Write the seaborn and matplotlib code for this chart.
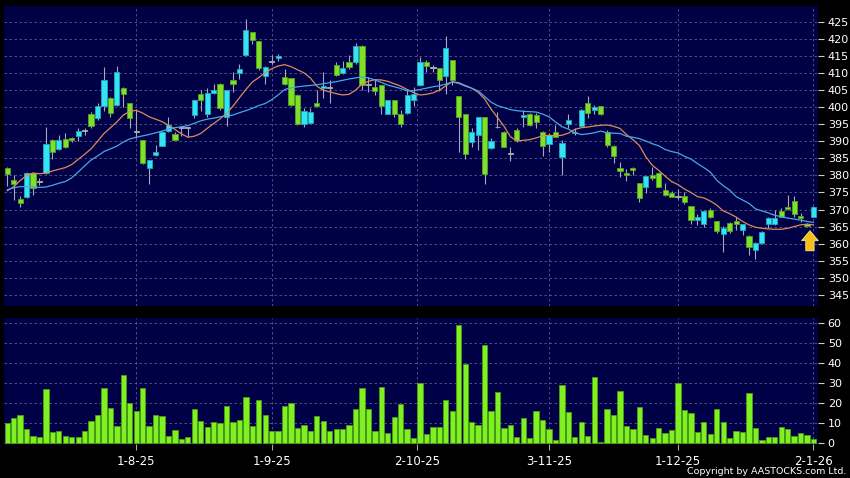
import numpy as np
import pandas as pd
import matplotlib
matplotlib.use("Agg")
import matplotlib.pyplot as plt
import seaborn as sns

sns.set_theme(style="dark")
plt.rcParams["font.family"] = ["DejaVu Sans"]

# -----------------------------
# Data (daily candles, Jul 2025 - Jan 2026)
# -----------------------------
opens = [382.2, 378.8, 373.0, 373.7, 380.8, 378.1, 380.6, 390.5, 387.9, 390.8,
         391.0, 391.7, 393.1, 397.9, 396.7, 400.3, 402.8, 400.8, 405.7, 401.1,
         392.8, 390.3, 382.2, 386.0, 388.7, 393.1, 392.1, 393.9, 393.9, 397.7,
         404.0, 398.1, 404.3, 406.9, 397.0, 408.1, 410.1, 415.2, 422.0, 419.4,
         409.1, 413.3, 414.5, 408.8, 408.6, 403.7, 395.0, 395.5, 401.1, 405.6,
         405.7, 412.5, 410.0, 413.3, 413.3, 418.1, 406.5, 406.0, 406.5, 398.1,
         402.1, 398.1, 398.3, 402.0, 406.6, 413.3, 411.6, 411.5, 409.1, 413.8,
         403.3, 397.9, 389.9, 391.9, 397.1, 388.0, 394.1, 392.8, 386.4, 393.3,
         397.0, 398.1, 397.7, 392.8, 389.2, 392.8, 385.3, 395.2, 392.3, 394.5,
         401.3, 399.1, 400.4, 392.8, 388.7, 382.2, 380.8, 382.3, 377.8, 376.7,
         380.0, 380.8, 375.6, 374.8, 373.7, 374.0, 371.0, 366.9, 365.8, 370.0,
         366.6, 362.7, 365.9, 366.6, 364.0, 362.3, 358.1, 360.1, 365.7, 365.7,
         369.5, 370.8, 372.6, 368.2, 365.7, 367.8]
highs = [382.5, 380.0, 373.9, 381.0, 381.0, 379.1, 394.2, 390.6, 392.0, 392.3,
         391.3, 393.8, 394.0, 398.7, 401.1, 411.8, 403.0, 412.0, 405.8, 401.2,
         399.2, 390.4, 384.6, 388.8, 393.0, 397.2, 392.8, 394.2, 394.1, 402.2,
         405.0, 405.7, 406.9, 407.0, 405.1, 410.3, 412.8, 425.9, 422.1, 419.5,
         412.0, 415.2, 415.7, 411.3, 408.7, 403.8, 399.9, 399.9, 405.0, 410.4,
         407.9, 413.2, 413.6, 415.2, 418.7, 418.2, 408.9, 407.9, 406.6, 402.2,
         402.2, 399.1, 405.0, 406.0, 414.8, 413.8, 412.3, 411.6, 421.0, 413.9,
         403.4, 398.0, 393.8, 397.2, 397.2, 390.9, 398.7, 392.9, 388.4, 393.8,
         399.2, 398.2, 398.2, 392.9, 392.3, 394.7, 390.4, 398.0, 393.8, 399.4,
         403.3, 400.6, 400.5, 393.3, 388.8, 383.8, 382.0, 382.5, 377.9, 379.9,
         382.6, 380.9, 377.7, 375.3, 375.9, 375.2, 371.1, 368.8, 370.0, 370.3,
         366.7, 365.2, 366.4, 367.9, 365.8, 362.4, 360.4, 363.6, 367.9, 369.8,
         370.3, 374.3, 374.0, 368.9, 366.1, 370.9]
lows = [377.0, 372.7, 370.6, 373.5, 374.4, 377.2, 380.4, 384.7, 387.6, 388.0,
        389.8, 390.2, 391.8, 393.9, 396.4, 399.0, 397.0, 400.3, 400.1, 393.8,
        390.9, 383.3, 377.6, 385.8, 388.5, 392.8, 390.3, 391.5, 391.3, 396.7,
        398.9, 397.0, 404.0, 399.1, 394.4, 404.5, 408.4, 415.0, 418.6, 411.0,
        406.7, 412.8, 413.7, 406.4, 400.3, 394.9, 394.3, 395.3, 400.1, 402.6,
        401.1, 409.3, 409.8, 411.3, 412.8, 405.0, 404.5, 403.5, 398.1, 398.0,
        397.2, 394.2, 398.1, 400.3, 406.2, 410.3, 410.3, 404.9, 404.0, 406.4,
        387.0, 384.7, 388.4, 387.5, 377.6, 387.9, 394.0, 388.3, 384.3, 389.9,
        394.2, 394.6, 393.8, 385.8, 387.0, 391.2, 380.2, 394.0, 391.8, 394.4,
        396.9, 397.9, 397.6, 388.3, 383.5, 379.5, 378.3, 380.0, 372.3, 374.8,
        378.7, 376.6, 374.0, 373.6, 373.2, 371.6, 365.9, 365.4, 365.0, 367.4,
        363.0, 357.6, 363.0, 363.9, 362.5, 356.6, 355.6, 360.0, 364.6, 365.6,
        367.7, 370.0, 367.9, 366.4, 364.9, 367.7]
closes = [380.3, 377.5, 371.8, 380.8, 376.2, 378.1, 389.2, 386.9, 390.5, 388.2,
          390.3, 393.0, 393.1, 394.5, 400.5, 408.1, 398.3, 410.3, 404.0, 396.7,
          392.8, 383.5, 384.5, 387.0, 392.8, 394.7, 390.5, 393.9, 393.9, 402.1,
          402.2, 404.2, 405.2, 399.9, 405.0, 406.9, 411.3, 422.6, 419.6, 411.6,
          411.7, 413.3, 415.1, 406.7, 400.8, 395.0, 398.8, 398.5, 400.5, 406.2,
          405.7, 409.5, 411.6, 411.8, 417.9, 406.5, 406.5, 404.8, 400.5, 402.1,
          398.1, 395.2, 403.7, 404.0, 413.3, 412.0, 411.6, 408.1, 417.4, 408.1,
          397.2, 386.3, 392.8, 397.1, 380.5, 390.2, 394.1, 388.4, 386.4, 390.4,
          397.7, 394.7, 395.7, 388.6, 391.8, 391.3, 389.4, 396.3, 392.8, 399.3,
          398.4, 400.1, 398.1, 388.8, 385.7, 381.2, 380.0, 381.7, 373.5, 379.8,
          379.2, 376.7, 374.4, 373.8, 373.7, 372.3, 366.9, 367.7, 369.6, 367.7,
          363.8, 364.7, 363.8, 365.9, 365.7, 358.9, 360.3, 363.5, 367.4, 367.4,
          367.8, 370.1, 368.6, 367.4, 365.1, 370.8]

# moving averages as drawn on the chart
ma_short = [375.5, 376.7, 378.5, 380.0, 380.7, 380.5, 380.7, 381.3, 381.8, 382.3,
            383.2, 384.7, 386.2, 387.8, 390.0, 392.3, 394.0, 395.7, 397.7, 398.8,
            399.1, 398.3, 397.2, 396.5, 395.8, 394.7, 393.5, 392.2, 391.2, 391.5,
            392.3, 393.8, 395.2, 396.6, 398.2, 400.3, 402.8, 405.2, 407.4, 408.7,
            410.2, 411.3, 412.1, 412.5, 411.9, 411.0, 410.1, 408.6, 406.2, 405.0,
            404.5, 404.0, 403.6, 403.8, 405.0, 406.8, 407.6, 408.1, 408.0, 407.6,
            406.9, 406.2, 405.2, 404.3, 403.6, 403.8, 404.2, 405.0, 406.3, 407.5,
            407.2, 406.4, 405.6, 404.4, 402.5, 399.5, 397.0, 394.5, 391.4, 390.1,
            390.3, 390.5, 391.0, 391.6, 391.8, 391.6, 391.8, 392.4, 393.5, 394.0,
            394.2, 394.5, 394.7, 394.8, 394.4, 393.8, 392.0, 390.5, 388.8, 385.5,
            383.0, 381.5, 379.8, 378.2, 377.3, 376.0, 375.0, 373.8, 373.4, 372.5,
            371.3, 369.6, 368.8, 367.8, 366.5, 365.5, 364.8, 364.5, 364.3, 364.2,
            364.2, 364.5, 365.0, 365.5, 365.7, 365.5]
ma_long = [375.8, 376.4, 376.7, 376.7, 376.7, 376.5, 376.6, 377.1, 377.7, 378.2,
           379.3, 381.0, 382.8, 384.5, 385.7, 387.0, 387.8, 388.6, 389.8, 390.7,
           391.2, 391.6, 392.0, 392.5, 393.0, 393.6, 394.0, 394.3, 394.6, 395.3,
           396.0, 396.5, 396.8, 397.2, 397.5, 397.7, 398.4, 399.0, 399.7, 400.5,
           401.1, 402.2, 403.6, 405.2, 405.7, 406.0, 406.2, 406.4, 406.6, 406.9,
           407.2, 407.5, 407.9, 408.3, 408.6, 408.9, 408.6, 408.0, 407.3, 406.5,
           406.0, 405.5, 404.8, 404.9, 405.2, 405.6, 406.0, 406.3, 406.8, 407.4,
           407.0, 406.2, 405.6, 404.8, 403.2, 401.5, 400.5, 399.9, 399.3, 399.0,
           398.8, 398.7, 398.6, 398.0, 397.2, 395.7, 394.3, 393.6, 392.5, 392.0,
           392.2, 392.5, 393.0, 392.5, 392.4, 392.3, 391.5, 391.2, 390.8, 390.1,
           389.3, 388.7, 387.6, 387.0, 386.6, 385.6, 384.8, 383.5, 382.3, 381.0,
           378.6, 377.0, 375.7, 373.8, 372.8, 371.8, 370.2, 369.6, 369.0, 368.3,
           367.9, 367.5, 367.2, 366.9, 366.5, 366.2]

volume = [10, 12.7, 14.2, 7.2, 3.8, 3.3, 27, 5.7, 6.2, 3.5,
          3.3, 3, 6, 11, 14, 27.7, 17.7, 8.8, 34, 20,
          16, 27.5, 8.8, 14, 13.5, 3.5, 6.7, 2, 3.3, 17.2,
          11.3, 8.2, 10.5, 10, 18.7, 10.7, 11.5, 23, 8.7, 21.8,
          14.2, 6, 6, 18.5, 20.3, 7.8, 9.3, 6, 13.7, 11,
          6.3, 7.2, 7, 9.2, 17.2, 27.8, 17.2, 6, 28, 5,
          13.2, 19.7, 7, 2.8, 30.3, 4.7, 8.3, 8.3, 21.5, 16,
          59, 39.7, 10.8, 9.3, 49, 16, 25.5, 7.5, 9, 3,
          12.8, 2.7, 16.3, 11.7, 7, 1.8, 29.3, 15.7, 3.2, 10.7,
          3.8, 33, 0.5, 17.2, 14, 26.2, 8.7, 7.3, 18.2, 4.2,
          2.8, 7.5, 5, 6.7, 30.3, 16.7, 15.3, 5.7, 10.8, 4.7,
          17.3, 10.8, 2.5, 6, 5.7, 25, 7.8, 1.5, 3.3, 3.2,
          8.3, 7, 3.7, 5.2, 4.2, 2]

date_labels = ["1-8-25", "1-9-25", "2-10-25", "3-11-25", "1-12-25", "2-1-26"]
date_days = [20, 41, 63.6, 84, 104, 125]

df = pd.DataFrame({"open": opens, "high": highs, "low": lows,
                   "close": closes, "ma10": ma_short, "ma20": ma_long,
                   "volume": volume})
df["day"] = np.arange(len(df))

# colours
BG = "#000046"
UP = "#33e4f4"
DOWN = "#7ee02a"
FLAT = "#b0b0b0"
GRID = "#5a5a8c"

fig = plt.figure(figsize=(8.5, 4.78), dpi=100, facecolor="black")
ax = fig.add_axes([4 / 850, 1 - 306 / 478, 814 / 850, 300 / 478])
axv = fig.add_axes([4 / 850, 1 - 444 / 478, 814 / 850, 126 / 478])

for a in (ax, axv):
    a.set_facecolor(BG)
    for s in a.spines.values():
        s.set_visible(False)
    a.set_axisbelow(True)
    a.grid(True, linestyle=(0, (3, 3)), color=GRID, linewidth=0.6)
    a.yaxis.tick_right()
    a.tick_params(axis="y", colors="#cccccc", labelcolor="white",
                  labelsize=8, length=4, width=0.8, pad=3, right=True, left=False)

# -----------------------------
# Candles
# -----------------------------
diff = df["close"] - df["open"]
colors = np.where(diff.abs() < 0.1, FLAT, np.where(diff > 0, UP, DOWN))
edges = np.where(diff.abs() < 0.1, FLAT, np.where(diff > 0, "#1fa8b8", "#55a41c"))

ax.vlines(df["day"], df["low"], df["high"], color="#a8a8b8", linewidth=0.8, zorder=2)
body_low = df[["open", "close"]].min(axis=1)
body_h = diff.abs().clip(lower=0.25)
ax.bar(df["day"], body_h, bottom=body_low, width=0.8,
       color=colors, edgecolor=edges, linewidth=0.6, zorder=3)

# moving averages
sns.lineplot(data=df, x="day", y="ma10", ax=ax, color="#dc8a5c",
             linewidth=0.9, zorder=4)
sns.lineplot(data=df, x="day", y="ma20", ax=ax, color="#4aa6e6",
             linewidth=0.9, zorder=4)

# marker arrow under the latest-but-one bar
ax.annotate("", xy=(124.45, 363.8), xytext=(124.45, 357.9),
            arrowprops=dict(arrowstyle="simple,head_width=1.0,head_length=0.6,tail_width=0.5",
                            fc="#f2c21a", ec="#ffe27a", lw=0.6,
                            shrinkA=0, shrinkB=0), zorder=5)

ax.set_xlim(-0.5, 125.7)
ax.set_ylim(341.7, 429.7)
ax.set_yticks(np.arange(345, 426, 5))
ax.set_xticks(date_days)
ax.tick_params(axis="x", bottom=False, labelbottom=False)
ax.set_xlabel("")
ax.set_ylabel("")

# -----------------------------
# Volume
# -----------------------------
sns.barplot(data=df, x="day", y="volume", ax=axv, native_scale=True,
            color="#7ff020", saturation=1, edgecolor="#4c9c14",
            linewidth=0.6, width=0.82, errorbar=None)

axv.set_xlim(-0.5, 125.7)
axv.set_ylim(-0.3, 62.6)
axv.set_yticks(np.arange(0, 61, 10))
axv.set_xticks(date_days)
axv.set_xticklabels(date_labels)
axv.tick_params(axis="x", colors="#aaaaaa", labelcolor="white", labelsize=8.5,
                length=4, width=0.8, pad=4, bottom=True)
axv.set_xlabel("")
axv.set_ylabel("")

fig.text(846 / 850, 1 - 471.5 / 478, "Copyright by AASTOCKS.com Ltd.",
         color="white", fontsize=6.8, ha="right", va="center")

plt.savefig("out.png", dpi=100, facecolor="black")
plt.close()
